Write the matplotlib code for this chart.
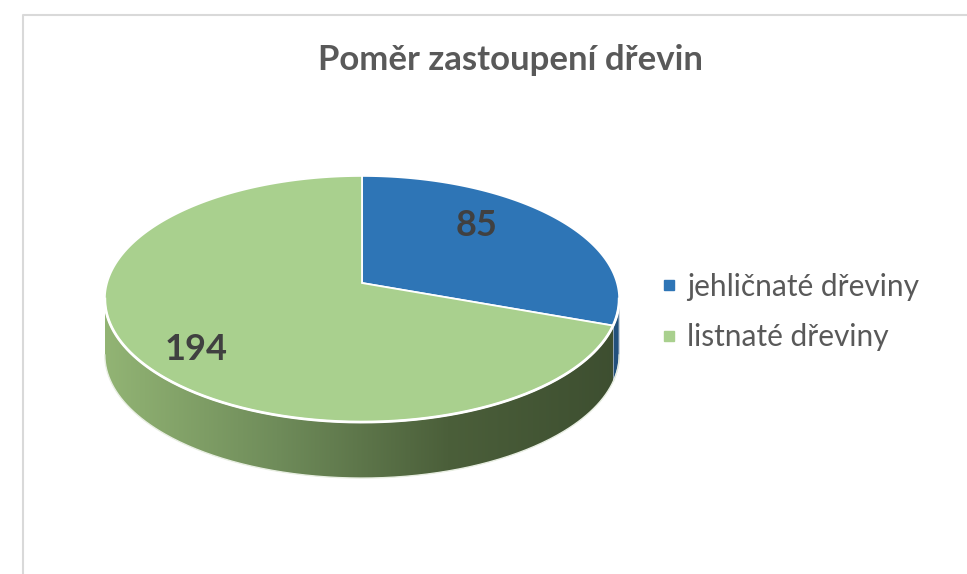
import numpy as np
import matplotlib
matplotlib.use("Agg")
import matplotlib.pyplot as plt
from matplotlib.patches import Polygon
from matplotlib.lines import Line2D
from matplotlib.colors import LinearSegmentedColormap

# data
categories = ["jehličnaté dřeviny", "listnaté dřeviny"]
values = [85, 194]
top_colors = ["#2e75b6", "#a9d08e"]
side_colors = ["#22507c", None]   # None -> green gradient
title = "Poměr zastoupení dřevin"

plt.rcParams["font.family"] = ["Lato", "DejaVu Sans"]

fig = plt.figure(figsize=(9.67, 5.74), dpi=100)
ax = fig.add_axes([0, 0, 1, 1])
ax.set_xlim(0, 967)
ax.set_ylim(574, 0)
ax.axis("off")

# frame of the chart area
ax.plot([23, 23, 967], [574, 15, 15], color="#d9d9d9", lw=1.5, zorder=1)

# 3d pie geometry (pixel space, simple perspective)
cx, cy = 362, 283
A, B, k = 255, 121, 0.13
depth = 56


def proj(theta_deg, r=1.0):
    t = np.radians(theta_deg)
    u, v = r * np.cos(t), r * np.sin(t)
    d = 1 + k * v
    return cx + A * u / d, cy - B * v / d


total = sum(values)
cum = np.concatenate([[0], np.cumsum(values)])
starts = 90 - 360 * cum[:-1] / total
ends = 90 - 360 * cum[1:] / total

sil = np.degrees(np.arcsin(k))
vis_lo, vis_hi = -180 + sil, -sil   # visible front arc of the side wall

xs_all = proj(np.linspace(0, 360, 721))[0]
xmin, xmax = xs_all.min(), xs_all.max()
green_side = LinearSegmentedColormap.from_list(
    "side", ["#92b474", "#6f8c5a", "#4b5f3a", "#3d4e30"], N=256)
grad = np.linspace(0, 1, 256).reshape(1, -1)

# side walls
for i in range(len(values)):
    a_hi, a_lo = starts[i], ends[i]
    for shift in (0, -360):
        lo = max(a_lo, vis_lo + shift)
        hi = min(a_hi, vis_hi + shift)
        if hi <= lo:
            continue
        th = np.linspace(hi, lo, 200)
        tx, ty = proj(th)
        pts = np.vstack([np.column_stack([tx, ty]),
                         np.column_stack([tx[::-1], ty[::-1] + depth])])
        if side_colors[i] is None:
            poly = Polygon(pts, closed=True, facecolor="none", edgecolor="none")
            ax.add_patch(poly)
            im = ax.imshow(grad, cmap=green_side, aspect="auto",
                           extent=[xmin, xmax, 480, 170], zorder=2)
            im.set_clip_path(poly)
        else:
            ax.add_patch(Polygon(pts, closed=True, facecolor=side_colors[i],
                                 edgecolor="#c9d3de", lw=0.8, zorder=2))

# faint bottom rim
th = np.linspace(vis_lo, vis_hi, 300)
bx, by = proj(th)
ax.plot(bx, by + depth, color="#e8eee2", lw=1.0, zorder=3)

# top face wedges
for i in range(len(values)):
    th = np.linspace(starts[i], ends[i], 300)
    tx, ty = proj(th)
    pts = np.vstack([[cx, cy], np.column_stack([tx, ty])])
    ax.add_patch(Polygon(pts, closed=True, facecolor=top_colors[i],
                         edgecolor="white", lw=1.3, zorder=4))

# white highlight between top face and side
fx, fy = proj(np.linspace(vis_lo, vis_hi, 300))
ax.plot(fx, fy, color="white", lw=2.0, zorder=5)

# data labels
label_pos = [(477, 226), (196, 350)]
for v, (lx, ly) in zip(values, label_pos):
    ax.text(lx, ly, str(v), fontsize=26, fontweight="bold", color="#404040",
            ha="center", va="center", zorder=6)

# title
ax.text(511, 60, title, fontsize=25, fontweight="bold", color="#595959",
        ha="center", va="center")

# legend
handles = [Line2D([], [], marker="s", linestyle="none", markersize=7.5,
                  markerfacecolor=c, markeredgecolor=c) for c in top_colors]
ax.legend(handles, categories, loc="center left",
          bbox_to_anchor=(647 / 967, 1 - 312 / 574), frameon=False,
          fontsize=21.5, labelcolor="#595959", handletextpad=0.25,
          labelspacing=0.75, borderaxespad=0, handlelength=0.7)

fig.savefig("out.png", dpi=100)
